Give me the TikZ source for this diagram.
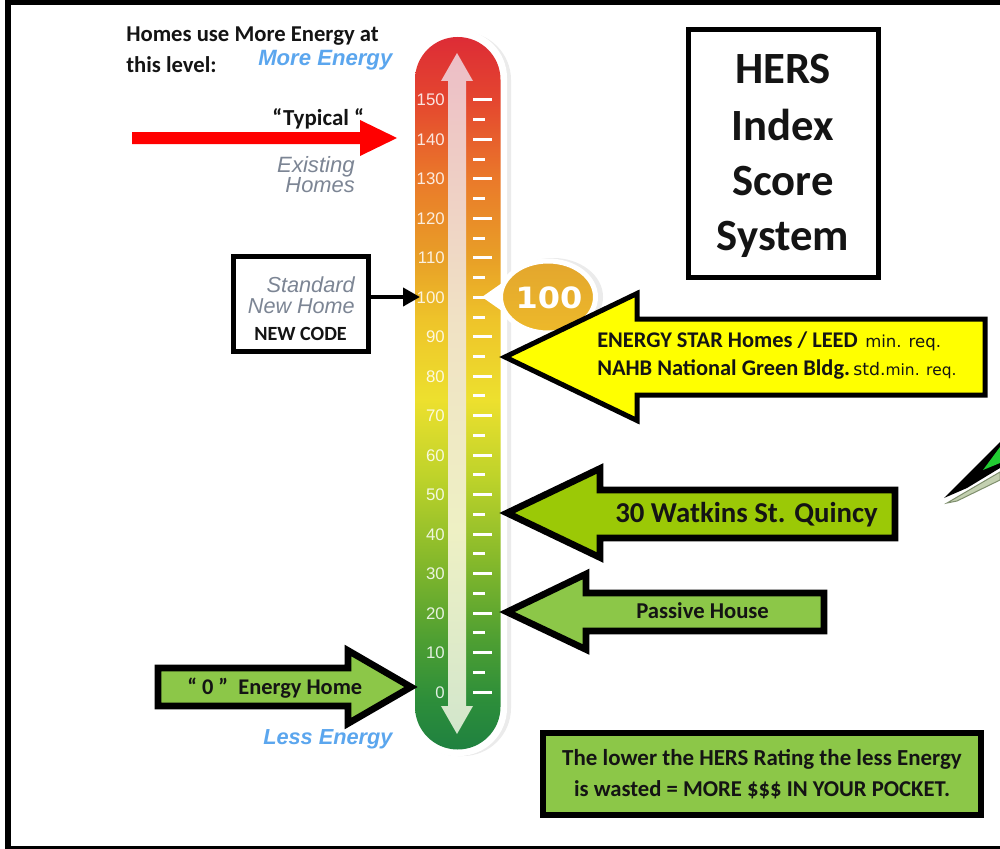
\documentclass[tikz,border=0pt]{standalone}
\usepackage{fontspec}
\usepackage{graphicx}
\usetikzlibrary{arrows.meta,shapes.geometric}
\setmainfont{Carlito}
\newfontfamily\ariel{Liberation Sans}
\newfontfamily\dejav{DejaVu Sans}
\newcommand{\fs}[1]{\fontsize{#1}{#1}\selectfont}
\definecolor{txt}{HTML}{141414}
\definecolor{skyb}{HTML}{5BA6EE}
\definecolor{greyt}{HTML}{7C8594}
\definecolor{leaf}{HTML}{8CC748}
\definecolor{lime}{HTML}{9BC906}
\definecolor{pureyel}{HTML}{FFFF00}
\definecolor{purered}{HTML}{FF0000}
\definecolor{shardg}{HTML}{22CC33}
\definecolor{stripf}{HTML}{C3D0B0}
\definecolor{stripd}{HTML}{7F8F6E}
\definecolor{bubA}{HTML}{E3A62E}
\definecolor{bubB}{HTML}{EDB92A}
\definecolor{tA}{HTML}{DD2C36}
\definecolor{tB}{HTML}{E4462F}
\definecolor{tC}{HTML}{EA7A2A}
\definecolor{tD}{HTML}{E8A027}
\definecolor{tE}{HTML}{EEC42A}
\definecolor{tF}{HTML}{EDE02E}
\definecolor{tG}{HTML}{BCD22A}
\definecolor{tH}{HTML}{86B92B}
\definecolor{tI}{HTML}{4E9F32}
\definecolor{tJ}{HTML}{2D8E3A}
\definecolor{tK}{HTML}{1F8140}
\definecolor{aA}{HTML}{EDBEC6}
\definecolor{aB}{HTML}{F0E2C4}
\definecolor{aC}{HTML}{EEF0C4}
\definecolor{aD}{HTML}{D2E6CC}
\pgfdeclareverticalshading{therm}{100bp}{color(0bp)=(tK); color(25bp)=(tK); color(28.5bp)=(tJ); color(32.71bp)=(tI); color(38.32bp)=(tH); color(43.93bp)=(tG); color(49.54bp)=(tF); color(55.15bp)=(tE); color(59.36bp)=(tD); color(64.97bp)=(tC); color(70.58bp)=(tB); color(75bp)=(tA); color(100bp)=(tA)}
\pgfdeclareverticalshading{shaft}{100bp}{color(0bp)=(aD); color(25bp)=(aD); color(40bp)=(aC); color(55bp)=(aB); color(75bp)=(aA); color(100bp)=(aA)}
\tikzset{
  lbl/.style={inner sep=0pt,anchor=base west,text=txt},
  lblr/.style={inner sep=0pt,anchor=base east},
  lblc/.style={inner sep=0pt,anchor=base,text=txt},
  block/.style={draw=black,line width=5pt,miter limit=10,line join=miter},
  tickmark/.style={draw=#1,line width=2.25pt},
  scalenum/.style={inner sep=0pt,anchor=base east,text=white,text opacity=.85},
}
\begin{document}
\begin{tikzpicture}[x=.75pt,y=-.75pt]
\useasboundingbox (0,0) rectangle (1000,849);
% frame
\fill[white] (0,0) rectangle (1000,849);
\fill[black] (5,0) rectangle (11,849);
\fill[black] (5,0) rectangle (1000,5);
\fill[black] (5,846) rectangle (1000,849);
% thermometer
\fill[rounded corners=36pt,black!8] (410,32) rectangle (511,756);
\fill[rounded corners=36pt,white] (408,30) rectangle (507,756);
\path[rounded corners=32pt,shading=therm] (415,37) rectangle (500.5,749.5);
% scale
\foreach \v in {0,10,...,150}{
  \node[scalenum,font=\ariel\fs{12.6}] (n\v) at (445,698-\v*3.947) {\v};
  \draw[tickmark=white] (473,692-\v*3.947) -- (492,692-\v*3.947);
}
\foreach \v in {5,15,...,145}{
  \draw[tickmark=white] (473,692-\v*3.947) -- (485,692-\v*3.947);
}
\path[shading=shaft] (457,53) -- (473,81) -- (466,81) -- (466,706) -- (473,706) -- (457,734) -- (441,706) -- (448,706) -- (448,81) -- (441,81) -- cycle;
% bubble
\fill[black!8] (553,297) ellipse [x radius=50,y radius=39];
\fill[white] (482,297) -- (512,276) -- (512,318) -- cycle;
\node[ellipse,inner sep=0pt,minimum width=71.25pt,minimum height=54pt,draw=white,line width=3.75pt,top color=bubA,bottom color=bubB] (bub) at (548,297) {};
\node[inner sep=0pt,text=white,font=\dejav\bfseries\fs{22}] (bubt) at (549,298) {\scalebox{1.09}[1]{100}};
% heading texts
\node[lbl,font=\bfseries\fs{17}] (h1) at (126,41.5) {Homes use More Energy at};
\node[lbl,font=\bfseries\fs{17}] (h2) at (126,73) {this level:};
\node[lbl,text=skyb,font=\ariel\bfseries\itshape\fs{16.6}] (more) at (258,65) {More Energy};
\node[lbl,text=skyb,font=\ariel\bfseries\itshape\fs{16.3}] (less) at (263,744) {Less Energy};
% red arrow
\fill[purered] (132,132) -- (360,132) -- (360,120) -- (397,138) -- (360,156) -- (360,144) -- (132,144) -- cycle;
\node[lbl,font=\bfseries\fs{17.2}] (typ) at (272,125) {“Typical “};
\node[lblr,text=greyt,font=\ariel\itshape\fs{16.6}] (ex1) at (355,172) {Existing};
\node[lblr,text=greyt,font=\ariel\itshape\fs{16.4}] (ex2) at (355,192) {Homes};
% standard box
\node[draw=black,line width=3.75pt,fill=white,inner sep=0pt,minimum width=101.25pt,minimum height=71.25pt] (std) at (301,304) {};
\node[lblr,text=greyt,font=\ariel\itshape\fs{16.3}] (s1) at (355,292) {Standard};
\node[lblr,text=greyt,font=\ariel\itshape\fs{16.2}] (s2) at (355,313) {New Home};
\node[lbl,font=\bfseries\fs{15.1}] (s3) at (254,340) {NEW CODE};
\coordinate (stdend) at (420,297);
\draw[-{Triangle[length=12.75pt,width=13.5pt]},line width=3pt,black] (std.east |- stdend) -- (stdend);
% title box
\node[draw=black,line width=3.75pt,fill=white,inner sep=0pt,minimum width=142.5pt,minimum height=186pt] (title) at (783,153.5) {};
\node[lblc,font=\bfseries\fs{33.5}] (t1) at (783,84) {HERS};
\node[lblc,font=\bfseries\fs{33.5}] (t2) at (783,140) {Index};
\node[lblc,font=\bfseries\fs{33.5}] (t3) at (783,195) {Score};
\node[lblc,font=\bfseries\fs{33.5}] (t4) at (783,250) {System};
% yellow arrow
\draw[line width=3.75pt,black,fill=pureyel,miter limit=10] (505,357) -- (637,293.5) -- (637,319) -- (985,319) -- (985,395) -- (637,395) -- (637,420.5) -- cycle;
\node[lbl,font=\bfseries\fs{16.8}] (y1) at (597,347) {ENERGY STAR Homes / LEED};
\node[lbl,font=\dejav\fs{12.4}] (y1b) at (865,347) {min. req.};
\node[lbl,font=\bfseries\fs{16.8}] (y2) at (597,375) {NAHB National Green Bldg.};
\node[lbl,font=\dejav\fs{13}] (y2b) at (853,375) {std.\fs{11.6}min. req.};
% watkins arrow
\draw[block,fill=lime] (507,513) -- (600,468.5) -- (600,490) -- (895,490) -- (895,538) -- (600,538) -- (600,557.5) -- cycle;
\node[lbl,font=\bfseries\fs{21.6}] (w) at (615,522) {30 Watkins St. Quincy};
% passive arrow
\draw[block,fill=leaf] (507,612) -- (586,574) -- (586,593) -- (824,593) -- (824,631) -- (586,631) -- (586,649.5) -- cycle;
\node[lbl,font=\bfseries\fs{17}] (p) at (636,618.5) {Passive House};
% zero arrow
\draw[block,fill=leaf] (158,668) -- (348,668) -- (348,650.5) -- (411,687) -- (348,723.5) -- (348,706) -- (158,706) -- cycle;
\node[lbl,font=\bfseries\fs{16.8}] (z) at (187,694.5) {“ 0 ”\ \ Energy Home};
% bottom box
\node[draw=black,line width=4.5pt,fill=leaf,inner sep=0pt,minimum width=328.5pt,minimum height=61.5pt] (note) at (761.5,774) {};
\node[lblc,font=\bfseries\fs{17.2}] (n1) at (762,765) {The lower the HERS Rating the less Energy};
\node[lblc,font=\bfseries\fs{17}] (n2) at (762,796) {is wasted = MORE \$\$\$ IN YOUR POCKET.};
% shard at the right edge
\fill[black] (944,498) -- (1000,442) -- (1000,468) -- (967,488) -- cycle;
\fill[shardg] (983,470) -- (1000,447) -- (1000,463) -- cycle;
\draw[draw=stripd,line width=.75pt,fill=stripf] (947,503) -- (1000,472) -- (1000,480) -- (957,501) -- cycle;
\end{tikzpicture}
\end{document}
